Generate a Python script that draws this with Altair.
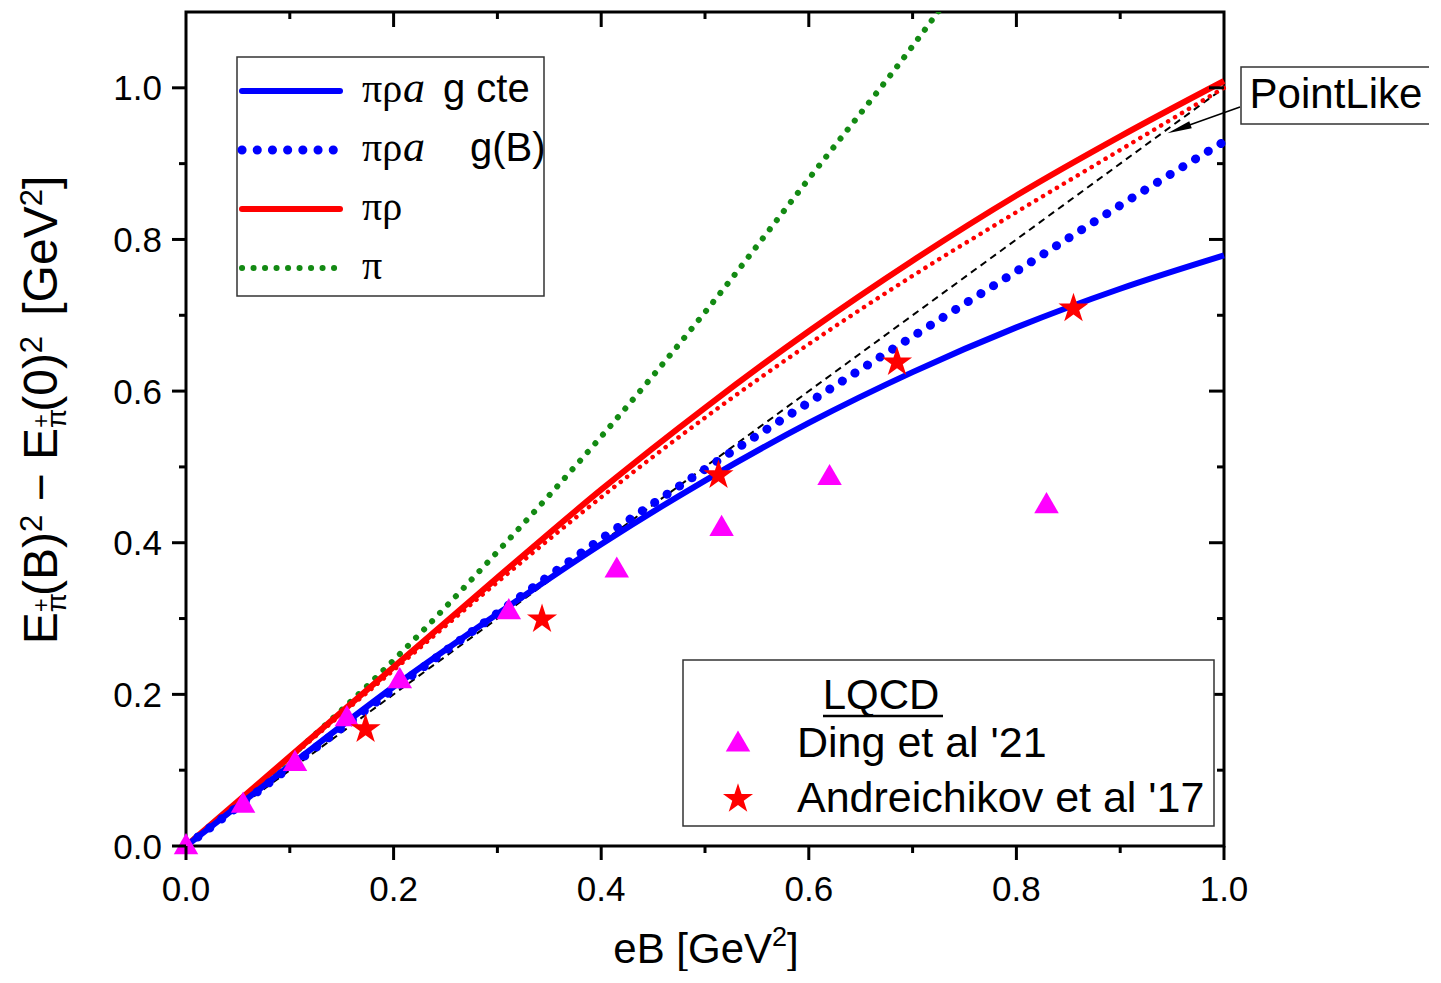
import altair as alt
import pandas as pd

# ---------------- data ----------------
eB = [0.0, 0.1, 0.2, 0.3, 0.4, 0.5, 0.6, 0.7, 0.8, 0.9, 1.0]
pra_g_cte = [0.0, 0.106, 0.210, 0.306, 0.398, 0.482, 0.558, 0.625, 0.684, 0.735, 0.779]
pra_g_B = [0.0, 0.104, 0.207, 0.307, 0.405, 0.497, 0.585, 0.672, 0.758, 0.845, 0.929]
pr_solid = [0.0, 0.118, 0.236, 0.354, 0.470, 0.578, 0.679, 0.772, 0.858, 0.936, 1.009]
pr_dotted = [0.0, 0.116, 0.232, 0.348, 0.460, 0.565, 0.662, 0.752, 0.836, 0.918, 1.000]
pi_eB = [0.0, 0.1, 0.2, 0.3, 0.4, 0.5, 0.6, 0.7, 0.75]
pi_only = [0.0, 0.117, 0.245, 0.388, 0.540, 0.704, 0.880, 1.055, 1.148]
pointlike_eB = [0.0, 1.0]
pointlike = [0.0, 1.0]
ding_eB = [0.0, 0.055, 0.105, 0.155, 0.206, 0.311, 0.415, 0.516, 0.620, 0.829]
ding = [0.003, 0.058, 0.113, 0.172, 0.222, 0.313, 0.368, 0.423, 0.490, 0.453]
andr_eB = [0.173, 0.343, 0.513, 0.685, 0.855]
andr = [0.154, 0.299, 0.489, 0.638, 0.709]

x_ticks = [0.0, 0.2, 0.4, 0.6, 0.8, 1.0]
x_labels = ["0.0", "0.2", "0.4", "0.6", "0.8", "1.0"]
y_ticks = [0.0, 0.2, 0.4, 0.6, 0.8, 1.0]
y_labels = ["0.0", "0.2", "0.4", "0.6", "0.8", "1.0"]
minor_ticks = [0.1, 0.3, 0.5, 0.7, 0.9]
major_inner = [0.2, 0.4, 0.6, 0.8]
major_inner_y = [0.2, 0.4, 0.6, 0.8, 1.0]

# ---------------- layout ----------------
W, H = 1038, 834
SANS = "Liberation Sans"
SERIF = "Liberation Serif"
BLUE, RED, GREEN, MAGENTA = "#0000FF", "#FF0000", "#138A13", "#FF00FF"

xs = alt.Scale(domain=[0, 1], nice=False, zero=False)
ys = alt.Scale(domain=[0, 1.1], nice=False, zero=False)
one = alt.Data(values=[{"k": 1}])


def curve(xv, yv, color, width, dash=None, cap="butt", clip=False):
    df = pd.DataFrame({"eB": xv, "v": yv})
    kw = dict(color=color, strokeWidth=width, interpolate="monotone", strokeCap=cap, clip=clip)
    if dash:
        kw["strokeDash"] = dash
    return alt.Chart(df).mark_line(**kw).encode(
        x=alt.X("eB:Q", scale=xs, axis=None), y=alt.Y("v:Q", scale=ys, axis=None))


def markers(xv, yv, shape, color, size):
    df = pd.DataFrame({"eB": xv, "v": yv})
    return alt.Chart(df).mark_point(shape=shape, filled=True, color=color, size=size,
                                    opacity=1, strokeWidth=0).encode(
        x=alt.X("eB:Q", scale=xs, axis=None), y=alt.Y("v:Q", scale=ys, axis=None))


def tick_rules(vals, side, length):
    df = pd.DataFrame({"t": vals})
    base = alt.Chart(df).mark_rule(color="black", strokeWidth=3)
    if side == "top":
        return base.encode(x=alt.X("t:Q", scale=xs, axis=None), y=alt.value(0), y2=alt.value(length))
    if side == "bottom":
        return base.encode(x=alt.X("t:Q", scale=xs, axis=None), y=alt.value(H), y2=alt.value(H + length))
    if side == "left":
        return base.encode(y=alt.Y("t:Q", scale=ys, axis=None), x=alt.value(-length), x2=alt.value(0))
    return base.encode(y=alt.Y("t:Q", scale=ys, axis=None), x=alt.value(W - length), x2=alt.value(W))


def tick_labels(vals, labs, side):
    df = pd.DataFrame({"t": vals, "lab": labs})
    if side == "bottom":
        return alt.Chart(df).mark_text(font=SANS, fontSize=35, align="center", baseline="alphabetic",
                                       color="black").encode(
            x=alt.X("t:Q", scale=xs, axis=None), y=alt.value(H + 55), text="lab:N")
    return alt.Chart(df).mark_text(font=SANS, fontSize=35, align="right", baseline="alphabetic",
                                   color="black", dy=12.5).encode(
        y=alt.Y("t:Q", scale=ys, axis=None), x=alt.value(-24), text="lab:N")


def txt(s, x, y, size, font=SANS, angle=None, align="left", style=None):
    kw = dict(text=s, fontSize=size, font=font, align=align, baseline="alphabetic", color="black")
    if angle is not None:
        kw["angle"] = angle
    if style:
        kw["fontStyle"] = style
    return alt.Chart(one).mark_text(**kw).encode(x=alt.value(x), y=alt.value(y))


def seg(x1, y1, x2, y2, color, width, dash=None, cap="butt"):
    kw = dict(color=color, strokeWidth=width, strokeCap=cap)
    if dash:
        kw["strokeDash"] = dash
    return alt.Chart(one).mark_rule(**kw).encode(
        x=alt.value(x1), y=alt.value(y1), x2=alt.value(x2), y2=alt.value(y2))


def box(x1, y1, x2, y2, sw=1.5):
    return alt.Chart(one).mark_rect(fill="white", stroke="#333333", strokeWidth=sw).encode(
        x=alt.value(x1), x2=alt.value(x2), y=alt.value(y1), y2=alt.value(y2))


def sym(x, y, shape, color, size, angle=None):
    kw = dict(shape=shape, filled=True, color=color, size=size, opacity=1, strokeWidth=0)
    if angle is not None:
        kw["angle"] = angle
    return alt.Chart(one).mark_point(**kw).encode(x=alt.value(x), y=alt.value(y))


STAR = ("M0,-1L0.2245,-0.309L0.951,-0.309L0.3633,0.118L0.588,0.809L0,0.382"
        "L-0.588,0.809L-0.3633,0.118L-0.951,-0.309L-0.2245,-0.309Z")
ARROW = "M0,-1L0.3,1L-0.3,1Z"

# em widths (Arial / Liberation Sans metrics)
EM = {'E': .667, '(': .333, ')': .333, 'B': .667, '0': .556, '2': .556, ' ': .278,
      '−': .584, '[': .278, ']': .278, 'G': .778, 'e': .556, 'V': .667, 'π': .58, '+': .584}


def tw(s, size):
    return sum(EM[c] for c in s) * size


layers = []

# data curves and points
layers.append(curve(pointlike_eB, pointlike, "black", 2, dash=[7, 5]))
layers.append(curve(pi_eB, pi_only, GREEN, 6, dash=[0.1, 11.4], cap="round", clip=True))
layers.append(curve(eB, pr_dotted, RED, 4.5, dash=[0.1, 8], cap="round"))
layers.append(curve(eB, pr_solid, RED, 6))
layers.append(curve(eB, pra_g_B, BLUE, 9, dash=[0.1, 14.8], cap="round"))
layers.append(curve(eB, pra_g_cte, BLUE, 6))
layers.append(markers(ding_eB, ding, "triangle-up", MAGENTA, 600))
layers.append(markers(andr_eB, andr, STAR, RED, 1000))

# ticks (major outward on bottom/left, inward on top/right) and labels
layers.append(tick_rules(x_ticks, "bottom", 14))
layers.append(tick_rules(y_ticks, "left", 14))
layers.append(tick_rules(minor_ticks, "bottom", 7))
layers.append(tick_rules(minor_ticks, "left", 7))
layers.append(tick_rules(major_inner, "top", 15))
layers.append(tick_rules(minor_ticks, "top", 7))
layers.append(tick_rules(major_inner_y, "right", 15))
layers.append(tick_rules(minor_ticks, "right", 7))
layers.append(tick_labels(x_ticks, x_labels, "bottom"))
layers.append(tick_labels(y_ticks, y_labels, "left"))

# legend 1 (models)
layers.append(box(51, 45, 358, 284))
layers.append(seg(56, 79, 154, 79, BLUE, 6, cap="round"))
layers.append(seg(56, 138, 150, 138, BLUE, 9, dash=[0.1, 15.1], cap="round"))
layers.append(seg(56, 197, 154, 197, RED, 6, cap="round"))
layers.append(seg(56, 256, 150, 256, GREEN, 6, dash=[0.1, 11.4], cap="round"))
for yb in (90, 149):
    layers.append(txt("πρ", 176, yb, 40, font=SERIF))
    layers.append(txt("a", 217, yb, 44, font=SERIF, style="italic"))
layers.append(txt("g cte", 257, 90, 40))
layers.append(txt("g(B)", 284, 149, 40))
layers.append(txt("πρ", 176, 208, 40, font=SERIF))
layers.append(txt("π", 176, 267, 40, font=SERIF))

# legend 2 (LQCD)
layers.append(box(497, 648, 1028, 814))
layers.append(txt("LQCD", 695, 697, 42, align="center"))
layers.append(seg(637, 704, 757, 704, "black", 2.5))
layers.append(sym(552, 729, "triangle-up", MAGENTA, 600))
layers.append(sym(552, 787, STAR, RED, 1000))
layers.append(txt("Ding et al '21", 611, 745, 43))
layers.append(txt("Andreichikov et al '17", 611, 800, 43))

# PointLike annotation
layers.append(seg(1054, 95, 995, 116, "black", 1.5))
layers.append(sym(993, 117, ARROW, "black", 600, angle=250))
layers.append(box(1055, 55, 1244, 112))
layers.append(txt("PointLike", 1150, 96, 42, align="center"))

# x-axis title: eB [GeV^2]
FX, fx = 42, 27
xparts = [("eB [GeV", "big"), ("2", "sup"), ("]", "big")]
total = sum(tw(s, FX if k == "big" else fx) for s, k in xparts)
cx = 520 - total / 2
for s, k in xparts:
    if k == "big":
        layers.append(txt(s, cx, 951, FX))
        cx += tw(s, FX)
    else:
        layers.append(txt(s, cx, 934, fx))
        cx += tw(s, fx)

# y-axis title: E_{pi+}(B)^2 - E_{pi+}(0)^2  [GeV^2]
FY, fy, fs, fp = 48, 31, 28, 24
BX, SUBX, PLUSX, SUPX = -129, -120, -137, -144
yparts = [("E", "big"), ("π", "subsup"), ("(B)", "big"), ("2", "sup"), (0.278, "gap"),
          ("−", "big"), (0.278, "gap"), ("E", "big"), ("π", "subsup"), ("(0)", "big"),
          ("2", "sup"), (0.42, "gap"), ("[GeV", "big"), ("2", "sup"), ("]", "big")]


def ylen(s, k):
    if k == "gap":
        return s * FY
    if k == "big":
        return tw(s, FY)
    if k == "sup":
        return tw(s, fy)
    return tw(s, fs)


total = sum(ylen(s, k) for s, k in yparts)
cy = 398 + total / 2
for s, k in yparts:
    if k == "big":
        layers.append(txt(s, BX, cy, FY, angle=270))
    elif k == "sup":
        layers.append(txt(s, SUPX, cy, fy, angle=270))
    elif k == "subsup":
        layers.append(txt(s, SUBX, cy, fs, angle=270))
        layers.append(txt("+", PLUSX, cy, fp, angle=270))
    cy -= ylen(s, k)

chart = alt.layer(*layers).properties(
    width=W, height=H,
    autosize=alt.AutoSizeParams(type="none"),
    padding={"left": 178, "top": 4, "right": 205, "bottom": 125},
).configure_view(stroke="black", strokeWidth=3)

chart.save("out.html", embed_options={"renderer": "svg", "actions": False})
